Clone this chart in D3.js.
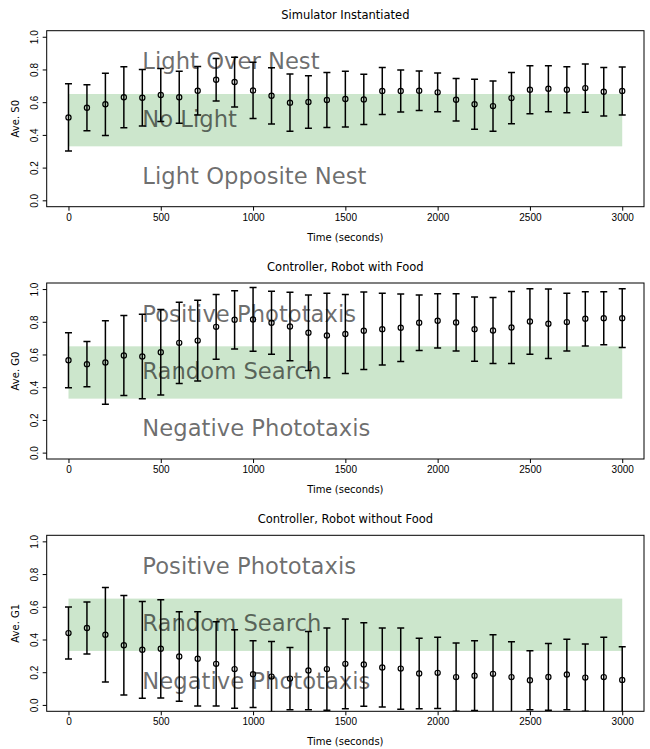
<!DOCTYPE html>
<html>
<head>
<meta charset="utf-8">
<script src="https://cdn.jsdelivr.net/npm/d3@7"></script>
<style>
  body { margin: 0; background: #fff; }
  svg { font-family: "DejaVu Sans", sans-serif; }
  .tick text { font-size: 10px; fill: #000; }
  .tick line { stroke: #000; }
</style>
</head>
<body>
<svg width="650" height="749"></svg>
<script>
// Time points (seconds)
var times = [0, 100, 200, 300, 400, 500, 600, 700, 800, 900, 1000, 1100, 1200, 1300, 1400, 1500,
             1600, 1700, 1800, 1900, 2000, 2100, 2200, 2300, 2400, 2500, 2600, 2700, 2800, 2900, 3000];

// Simulator instantiated (S0)
var s0Mean = [0.507, 0.566, 0.587, 0.630, 0.627, 0.644, 0.630, 0.670, 0.737, 0.723, 0.672, 0.639, 0.597, 0.601, 0.613, 0.619,
              0.617, 0.668, 0.668, 0.670, 0.660, 0.615, 0.587, 0.576, 0.625, 0.676, 0.682, 0.676, 0.686, 0.664, 0.668];
var s0Err  = [0.205, 0.141, 0.190, 0.186, 0.173, 0.162, 0.159, 0.148, 0.130, 0.152, 0.172, 0.172, 0.175, 0.160, 0.168, 0.170,
              0.153, 0.144, 0.128, 0.121, 0.118, 0.130, 0.153, 0.153, 0.157, 0.146, 0.141, 0.140, 0.148, 0.148, 0.147];

// Controller, robot with food (G0)
var g0Mean = [0.565, 0.541, 0.551, 0.594, 0.588, 0.614, 0.671, 0.685, 0.769, 0.812, 0.814, 0.794, 0.771, 0.733, 0.716, 0.725,
              0.745, 0.755, 0.763, 0.794, 0.806, 0.796, 0.755, 0.747, 0.765, 0.802, 0.788, 0.798, 0.818, 0.822, 0.822];
var g0Err  = [0.168, 0.138, 0.255, 0.245, 0.258, 0.261, 0.248, 0.247, 0.198, 0.178, 0.195, 0.192, 0.210, 0.231, 0.258, 0.242,
              0.237, 0.220, 0.206, 0.170, 0.166, 0.175, 0.196, 0.202, 0.220, 0.200, 0.213, 0.176, 0.166, 0.162, 0.180];

// Controller, robot without food (G1)
var g1Mean = [0.439, 0.470, 0.429, 0.365, 0.337, 0.343, 0.296, 0.282, 0.251, 0.219, 0.188, 0.173, 0.161, 0.210, 0.219, 0.251,
              0.247, 0.229, 0.222, 0.192, 0.196, 0.170, 0.179, 0.190, 0.170, 0.151, 0.171, 0.186, 0.167, 0.170, 0.153];
var g1Err  = [0.159, 0.159, 0.289, 0.304, 0.296, 0.300, 0.274, 0.288, 0.257, 0.240, 0.204, 0.215, 0.190, 0.239, 0.251, 0.274,
              0.255, 0.241, 0.248, 0.216, 0.218, 0.208, 0.213, 0.239, 0.216, 0.180, 0.204, 0.216, 0.205, 0.244, 0.202];

var titles = ['Simulator Instantiated', 'Controller, Robot with Food', 'Controller, Robot without Food'];
var yLabels = ['Ave. S0', 'Ave. G0', 'Ave. G1'];
var regionNames = [
    ['Light Over Nest', 'No Light', 'Light Opposite Nest'],
    ['Positive Phototaxis', 'Random Search', 'Negative Phototaxis'],
    ['Positive Phototaxis', 'Random Search', 'Negative Phototaxis']
];
var regionLevels = [0.8, 0.45, 0.1];
var band = [0.33, 0.65];
var xTicks = [0, 500, 1000, 1500, 2000, 2500, 3000];
var yTicks = [0, 0.2, 0.4, 0.6, 0.8, 1.0];

var means = [s0Mean, g0Mean, g1Mean];
var errs = [s0Err, g0Err, g1Err];

var svg = d3.select('svg');

var axLeft = 46.7, axRight = 644, axTop = 30.7, axHeight = 176, panelStep = 252.3;

var xScale = d3.scaleLinear()
    .domain([-118, 3118])
    .range([0, axRight - axLeft]);

var yScale = d3.scaleLinear()
    .domain([-0.039, 1.037])
    .range([axHeight, 0]);

titles.forEach(function(title, i) {
    var g = svg.append('g')
        .attr('transform', 'translate(' + [axLeft, axTop + i * panelStep] + ')');
    var w = axRight - axLeft;

    var clipId = 'clip' + i;
    g.append('clipPath').attr('id', clipId)
        .append('rect').attr('width', w).attr('height', axHeight);

    var data = times.map(function(t, j) {
        return {t: t, m: means[i][j], e: errs[i][j]};
    });

    var plot = g.append('g').attr('clip-path', 'url(#' + clipId + ')');

    // green band
    plot.append('rect')
        .attr('x', xScale(0))
        .attr('width', xScale(3000) - xScale(0))
        .attr('y', yScale(band[1]))
        .attr('height', yScale(band[0]) - yScale(band[1]))
        .attr('fill', 'green')
        .attr('fill-opacity', 0.2);

    // error bars
    var bars = plot.selectAll('.err').data(data).enter().append('g')
        .attr('stroke', '#000')
        .attr('stroke-width', 1.5);
    bars.append('line')
        .attr('x1', function(d) { return xScale(d.t); })
        .attr('x2', function(d) { return xScale(d.t); })
        .attr('y1', function(d) { return yScale(d.m - d.e); })
        .attr('y2', function(d) { return yScale(d.m + d.e); });
    bars.append('line')
        .attr('x1', function(d) { return xScale(d.t) - 3.5; })
        .attr('x2', function(d) { return xScale(d.t) + 3.5; })
        .attr('y1', function(d) { return yScale(d.m + d.e); })
        .attr('y2', function(d) { return yScale(d.m + d.e); });
    bars.append('line')
        .attr('x1', function(d) { return xScale(d.t) - 3.5; })
        .attr('x2', function(d) { return xScale(d.t) + 3.5; })
        .attr('y1', function(d) { return yScale(d.m - d.e); })
        .attr('y2', function(d) { return yScale(d.m - d.e); });
    bars.append('circle')
        .attr('cx', function(d) { return xScale(d.t); })
        .attr('cy', function(d) { return yScale(d.m); })
        .attr('r', 2.6)
        .attr('fill', 'none')
        .attr('stroke-width', 1.2);

    // region labels
    regionNames[i].forEach(function(name, k) {
        g.append('text')
            .attr('x', xScale(400))
            .attr('y', yScale(regionLevels[k]))
            .attr('font-size', '22.7px')
            .attr('fill', '#000')
            .attr('fill-opacity', 0.58)
            .text(name);
    });

    // axes
    g.append('g')
        .attr('transform', 'translate(0,' + axHeight + ')')
        .call(d3.axisBottom(xScale).tickValues(xTicks).tickSize(4).tickPadding(3).tickFormat(d3.format('d')))
        .call(function(a) { a.select('.domain').remove(); });

    var yAx = g.append('g')
        .call(d3.axisLeft(yScale).tickValues(yTicks).tickSize(4).tickFormat(d3.format('.1f')))
        .call(function(a) { a.select('.domain').remove(); });
    yAx.selectAll('.tick text')
        .attr('x', null).attr('dy', null)
        .attr('transform', 'translate(-12,0) rotate(-90)')
        .attr('text-anchor', 'middle')
        .attr('dominant-baseline', 'central');

    g.append('rect')
        .attr('width', w).attr('height', axHeight)
        .attr('fill', 'none')
        .attr('stroke', '#000')
        .attr('stroke-width', 1);

    g.append('text')
        .attr('x', w / 2)
        .attr('y', -12)
        .attr('text-anchor', 'middle')
        .attr('font-size', '11.5px')
        .text(title);

    g.append('text')
        .attr('x', w / 2)
        .attr('y', axHeight + 34)
        .attr('text-anchor', 'middle')
        .attr('font-size', '10px')
        .text('Time (seconds)');

    g.append('text')
        .attr('transform', 'translate(-28,' + (axHeight / 2) + ') rotate(-90)')
        .attr('text-anchor', 'middle')
        .attr('font-size', '10px')
        .text(yLabels[i]);
});
</script>
</body>
</html>
